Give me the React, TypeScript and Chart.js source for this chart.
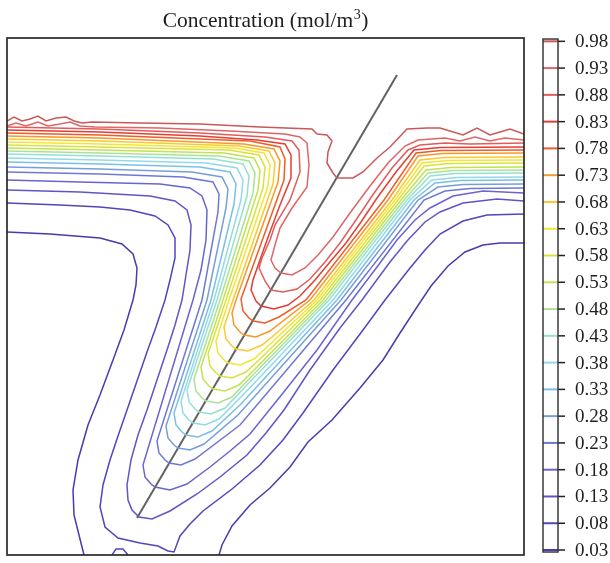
import React, { useEffect, useRef } from 'react';
import { Chart, registerables } from 'chart.js';

Chart.register(...registerables);

// Contour levels (mol/m^3) and their colours
const levels = [0.03, 0.08, 0.13, 0.18, 0.23, 0.28, 0.33, 0.38, 0.43, 0.48, 0.53, 0.58, 0.63, 0.68, 0.73, 0.78, 0.83, 0.88, 0.93, 0.98];
const levelColors = [
  'rgb(70,60,175)', 'rgb(80,70,190)', 'rgb(95,85,200)', 'rgb(105,100,208)', 'rgb(110,120,212)',
  'rgb(118,158,218)', 'rgb(122,192,230)', 'rgb(148,216,236)', 'rgb(148,226,206)', 'rgb(172,226,152)',
  'rgb(196,226,78)', 'rgb(216,226,62)', 'rgb(242,230,52)', 'rgb(250,202,44)', 'rgb(246,152,44)',
  'rgb(240,92,38)', 'rgb(226,62,52)', 'rgb(226,92,92)', 'rgb(222,102,102)', 'rgb(202,88,88)'
];
const tickLabels = ['0.03', '0.08', '0.13', '0.18', '0.23', '0.28', '0.33', '0.38', '0.43', '0.48', '0.53', '0.58', '0.63', '0.68', '0.73', '0.78', '0.83', '0.88', '0.93', '0.98'];

// Domain: x across (0..517), depth from top (0..517)
const domainX = [0, 517];
const domainY = [0, 517];
const colorbarScale = [0.0207, 0.9862];
const colorbarRange = [0.0263, 0.9843];

// Crack line
const crack = [[130, 480], [390, 37]];

// Contour polylines [x, depth]
const c003a = [[0,194],[43,196],[93,200],[115,206],[126,216],[130,230],[129,247],[126,262],[117,292],[106,322],[93,357],[81,387],[71,422],[66,452],[67,477],[72,497],[77,517]];
const c003b = [[517,205],[493,205],[476,207],[458,214],[441,228],[424,248],[410,269],[393,295],[376,322],[353,350],[325,382],[301,404],[283,429],[263,450],[243,467],[225,488],[215,507],[212,517]];
const c008 = [[0,165],[53,167],[93,169],[123,172],[148,178],[161,187],[168,200],[168,220],[163,242],[158,262],[149,289],[140,314],[130,343],[120,372],[111,398],[103,422],[96,447],[93,469],[98,489],[111,500],[133,505],[151,508],[161,513],[167,514],[173,498],[183,486],[196,473],[225,451],[253,427],[276,402],[296,375],[326,332],[356,292],[378,262],[403,230],[418,212],[433,196],[456,183],[480,177],[517,176]];
const c008b = [[105,517],[109,511],[116,511],[121,517]];
const c013 = [[0,152],[73,154],[143,158],[168,163],[180,172],[184,187],[183,212],[179,237],[175,262],[168,287],[160,312],[150,342],[140,372],[131,397],[124,422],[120,447],[121,462],[125,472],[132,479],[145,481],[163,473],[190,456],[213,439],[240,417],[259,395],[277,372],[303,332],[333,290],[355,262],[383,224],[400,203],[418,184],[433,174],[456,165],[490,161],[517,163]];
const c018 = [[0,142],[73,144],[153,146],[183,150],[195,158],[200,172],[199,202],[194,232],[186,262],[136,427],[138,439],[144,446],[148,449],[163,452],[180,446],[203,429],[223,413],[243,396],[276,355],[310,312],[345,262],[370,229],[390,202],[408,182],[423,170],[446,158],[476,153],[517,155]];
const c023 = [[0,134],[93,136],[176,139],[206,144],[212,156],[211,174],[195,262],[150,403],[152,415],[158,422],[162,425],[174,427],[188,421],[233,387],[339,262],[417,162],[438,153],[463,150.5],[517,150]];
const c028 = [[0,129],[93,131],[185,134],[215,139],[221,151],[219,170],[200,262],[159,388],[161,400],[167,407],[171,410],[183,412],[197,406],[231,377],[334,262],[411,162],[431,149],[456,146.5],[517,146]];
const c033 = [[0,124],[93,126],[193,129],[223,134],[229,146],[227,166],[204,262],[167,375],[169,387],[175,394],[179,397],[191,399],[205,393],[233,367],[330,262],[407,162],[428,145],[453,142.5],[517,142]];
const c038 = [[0,120],[93,122],[200,125],[230,130],[236,142],[234,162],[207,262],[174,363],[176,375],[182,382],[186,385],[198,387],[212,381],[236,357],[326,262],[403,162],[425,142],[450,139.5],[517,139]];
const c043 = [[0,116],[93,118],[206,121],[236,126],[242,138],[240,158],[210,262],[180,352],[182,364],[188,371],[192,374],[204,376],[218,370],[239,348],[322,262],[400,162],[423,138],[448,135.5],[517,135]];
const c048 = [[0,113],[93,115],[212,118],[242,123],[248,135],[246,155],[213,262],[187,341],[189,353],[195,360],[199,363],[211,365],[225,359],[243,340],[319,262],[397,162],[421,135],[446,132.5],[517,132]];
const c053 = [[0,110],[93,112],[217,115],[247,120],[253,132],[251,152],[216,262],[194,329],[196,341],[202,348],[206,351],[218,353],[232,347],[247,332],[316,262],[394,162],[419,132],[444,129.5],[517,129]];
const c058 = [[0,107],[93,109],[222,112],[252,117],[258,129],[256,150],[219,262],[201,316],[203,328],[209,335],[213,338],[225,340],[239,334],[252,322],[313,262],[391,162],[417,128],[442,125.5],[517,125]];
const c063 = [[0,104],[93,106],[227,110],[257,115],[263,127],[261,148],[222,262],[209,303],[211,315],[217,322],[221,325],[233,327],[247,321],[258,311],[310,262],[388,162],[415,125],[440,122.5],[517,122]];
const c068 = [[0,101],[93,103],[232,108],[262,113],[268,125],[266,146],[226,262],[217,289],[219,301],[225,308],[229,311],[241,313],[255,307],[265,299],[307,262],[385,162],[413,122],[438,119.5],[517,119]];
const c073 = [[0,98],[93,100],[237,106],[267,111],[273,123],[271,144],[229,262],[225,275],[227,287],[233,294],[237,297],[249,299],[263,293],[303,262],[381,162],[411,118],[436,115.5],[517,115]];
const c078 = [[0,95],[93,97],[243,103],[273,109],[278,121],[277,142],[234,261],[236,273],[242,280],[246,283],[258,285],[272,279],[299,262],[377,162],[409,115],[434,112.5],[517,112]];
const c083 = [[0,92],[93,94],[193,98],[250,102],[278,106],[284,117],[284,140],[273,167],[260,202],[246,242],[244,252],[249,263],[254,268],[267,271],[281,267],[293,258],[308,242],[323,224],[339,205],[354,184],[370,160],[389,134],[407,112],[433,109.5],[517,109]];
const c088 = [[0,89],[93,91],[193,95],[258,99],[285,103],[292,112],[293,134],[283,162],[268,187],[263,202],[255,220],[252,230],[258,243],[264,252],[276,254],[290,251],[303,241],[318,224],[333,205],[349,182],[365,158],[385,130],[401,112],[413,107],[438,105],[463,106],[517,105]];
const c093 = [[0,88],[9,85],[19,88],[31,84],[41,88],[53,86],[63,84],[73,88],[88,89],[153,90],[223,93],[278,96],[293,99],[300,105],[302,127],[300,149],[285,170],[273,190],[268,207],[264,222],[268,230],[274,235],[285,237],[298,230],[311,217],[326,199],[343,175],[363,148],[381,125],[398,108],[411,102],[438,100],[453,103],[468,99],[483,103],[498,100],[517,102]];
const c098 = [[0,83],[7,79],[15,83],[23,81],[31,78],[39,83],[49,80],[59,79],[67,83],[75,85],[85,84],[133,85],[193,86],[253,89],[305,91],[310,96],[320,97],[325,103],[321,114],[320,125],[326,135],[330,140],[346,140],[356,134],[370,120],[383,109],[400,91],[420,90],[433,90],[456,97],[470,90],[483,97],[493,94],[503,91],[517,96]];

const contours: { level: number; pts: number[][] }[] = [
  { level: 0.03, pts: c003a }, { level: 0.03, pts: c003b },
  { level: 0.08, pts: c008 }, { level: 0.08, pts: c008b },
  { level: 0.13, pts: c013 }, { level: 0.18, pts: c018 },
  { level: 0.23, pts: c023 }, { level: 0.28, pts: c028 },
  { level: 0.33, pts: c033 }, { level: 0.38, pts: c038 },
  { level: 0.43, pts: c043 }, { level: 0.48, pts: c048 },
  { level: 0.53, pts: c053 }, { level: 0.58, pts: c058 },
  { level: 0.63, pts: c063 }, { level: 0.68, pts: c068 },
  { level: 0.73, pts: c073 }, { level: 0.78, pts: c078 },
  { level: 0.83, pts: c083 }, { level: 0.88, pts: c088 },
  { level: 0.93, pts: c093 }, { level: 0.98, pts: c098 },
];

const SERIF = '"Liberation Serif", "Times New Roman", serif';

const decorPlugin = {
  id: 'decor',
  afterDatasetsDraw(chart: any) {
    const { ctx, chartArea: a, scales } = chart;
    const cb = scales.cb;
    ctx.save();
    // plot frame
    ctx.strokeStyle = '#2a2a2a';
    ctx.lineWidth = 1.7;
    ctx.strokeRect(a.left, a.top, a.right - a.left, a.bottom - a.top);

    // colour bar
    const barL = a.right + 19;
    const barR = barL + 15;
    const yTop = cb.getPixelForValue(colorbarRange[1]);
    const yBot = cb.getPixelForValue(colorbarRange[0]);
    levels.forEach((v, i) => {
      const y = cb.getPixelForValue(v);
      ctx.strokeStyle = levelColors[i];
      ctx.lineWidth = 2;
      ctx.beginPath();
      ctx.moveTo(barL, y);
      ctx.lineTo(barR, y);
      ctx.stroke();
      ctx.strokeStyle = '#222';
      ctx.lineWidth = 1.5;
      ctx.beginPath();
      ctx.moveTo(barR, y);
      ctx.lineTo(barR + 7, y);
      ctx.stroke();
    });
    ctx.strokeStyle = '#3a3a3a';
    ctx.lineWidth = 1.5;
    ctx.strokeRect(barL, yTop, barR - barL, yBot - yTop);

    ctx.fillStyle = '#1e1e1e';
    ctx.font = `19px ${SERIF}`;
    ctx.textAlign = 'left';
    ctx.textBaseline = 'middle';
    tickLabels.forEach((t, i) => {
      ctx.fillText(t, barR + 17, cb.getPixelForValue(levels[i]) + 1);
    });

    // title with superscript
    const main = 'Concentration (mol/m';
    const sup = '3';
    const end = ')';
    ctx.textBaseline = 'alphabetic';
    ctx.font = `21.5px ${SERIF}`;
    const wMain = ctx.measureText(main).width;
    const wEnd = ctx.measureText(end).width;
    ctx.font = `14px ${SERIF}`;
    const wSup = ctx.measureText(sup).width;
    const total = wMain + wSup + wEnd + 1;
    const cx = (a.left + a.right) / 2;
    let x = cx - total / 2;
    const base = 27;
    ctx.font = `21.5px ${SERIF}`;
    ctx.fillText(main, x, base);
    x += wMain + 0.5;
    ctx.font = `14px ${SERIF}`;
    ctx.fillText(sup, x, base - 8);
    x += wSup + 0.5;
    ctx.font = `21.5px ${SERIF}`;
    ctx.fillText(end, x, base);
    ctx.restore();
  },
};

export default function App() {
  const ref = useRef<HTMLCanvasElement | null>(null);
  useEffect(() => {
    document.body.style.margin = '0';
    const canvas = ref.current;
    if (!canvas) return;
    const datasets: any[] = contours.map((c) => {
      const idx = levels.indexOf(c.level);
      return {
        label: String(c.level),
        data: c.pts.map(([x, y]) => ({ x, y })),
        showLine: true,
        borderColor: levelColors[idx],
        borderWidth: 1.5,
        pointRadius: 0,
        fill: false,
        tension: 0,
      };
    });
    datasets.push({
      label: 'crack',
      data: crack.map(([x, y]) => ({ x, y })),
      showLine: true,
      borderColor: 'rgba(90,90,90,0.95)',
      borderWidth: 2,
      pointRadius: 0,
      fill: false,
    });
    const chart = new Chart(canvas, {
      type: 'scatter',
      data: { datasets },
      options: {
        animation: false,
        responsive: false,
        devicePixelRatio: 1,
        layout: { padding: { left: 7, top: 38, right: 86, bottom: 8 } },
        scales: {
          x: { type: 'linear', min: domainX[0], max: domainX[1], display: false },
          y: { type: 'linear', min: domainY[0], max: domainY[1], reverse: true, display: false },
          cb: { type: 'linear', position: 'right', min: colorbarScale[0], max: colorbarScale[1], display: false },
        },
        plugins: {
          legend: { display: false },
          tooltip: { enabled: false },
          title: { display: false },
        },
      },
      plugins: [decorPlugin],
    } as any);
    return () => chart.destroy();
  }, []);
  return (
    <div style={{ width: 610, height: 563, background: '#fff' }}>
      <canvas ref={ref} width={610} height={563} style={{ display: 'block' }} />
    </div>
  );
}
